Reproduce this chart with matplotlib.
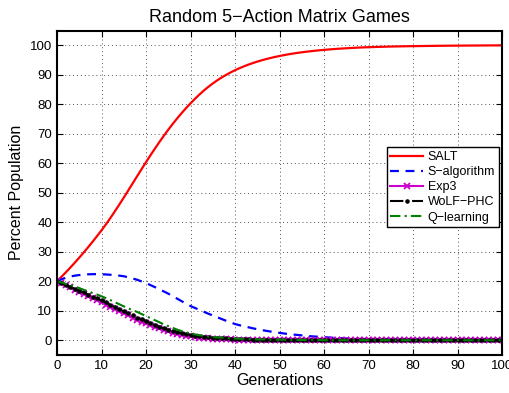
import numpy as np
import matplotlib
matplotlib.use("Agg")
import matplotlib.pyplot as plt

plt.rcParams['font.family'] = ['Liberation Sans', 'DejaVu Sans']

generations = np.arange(0, 101)

salt = [20.0, 21.5, 23.05, 24.65, 26.3, 28.0, 29.75, 31.55, 33.4, 35.3,
        37.25, 39.3, 41.45, 43.7, 46.0, 48.35, 50.75, 53.17, 55.59, 57.99,
        60.37, 62.7, 64.97, 67.17, 69.3, 71.35, 73.32, 75.2, 76.99, 78.69,
        80.29, 81.84, 83.29, 84.64, 85.89, 87.04, 88.1, 89.07, 89.96, 90.78,
        91.53, 92.22, 92.85, 93.43, 93.96, 94.45, 94.9, 95.31, 95.69, 96.04,
        96.36, 96.65, 96.92, 97.17, 97.4, 97.61, 97.8, 97.98, 98.14, 98.29,
        98.43, 98.56, 98.68, 98.79, 98.89, 98.98, 99.07, 99.15, 99.22, 99.28,
        99.34, 99.39, 99.44, 99.48, 99.52, 99.56, 99.59, 99.62, 99.65, 99.68,
        99.7, 99.72, 99.74, 99.76, 99.78, 99.8, 99.82, 99.83, 99.85, 99.86,
        99.87, 99.88, 99.89, 99.9, 99.91, 99.92, 99.93, 99.94, 99.95, 99.96,
        99.97]

s_algorithm = [20.0, 20.65, 21.2, 21.6, 21.9, 22.1, 22.25, 22.35, 22.4, 22.4,
               22.35, 22.3, 22.2, 22.05, 21.9, 21.7, 21.35, 20.95, 20.5, 19.95,
               19.4, 18.7, 18.0, 17.3, 16.55, 15.8, 14.95, 14.1, 13.25, 12.4,
               11.6, 10.95, 10.3, 9.65, 9.0, 8.4, 7.8, 7.2, 6.6, 6.05,
               5.5, 5.1, 4.75, 4.4, 4.05, 3.75, 3.45, 3.2, 2.95, 2.7,
               2.5, 2.3, 2.1, 1.95, 1.8, 1.65, 1.5, 1.35, 1.25, 1.15,
               1.05, 0.95, 0.85, 0.75, 0.7, 0.6, 0.55, 0.5, 0.45, 0.4,
               0.35, 0.32, 0.29, 0.26, 0.23, 0.2, 0.18, 0.16, 0.14, 0.12,
               0.1, 0.09, 0.08, 0.07, 0.06, 0.05, 0.04, 0.04, 0.03, 0.03,
               0.02, 0.02, 0.02, 0.01, 0.01, 0.01, 0.0, 0.0, 0.0, 0.0,
               0.0]

exp3 = [20.0, 19.3, 18.6, 17.9, 17.2, 16.5, 15.8, 15.1, 14.4, 13.6,
        12.9, 12.1, 11.3, 10.6, 9.8, 9.1, 8.4, 7.7, 7.0, 6.3,
        5.7, 5.1, 4.5, 4.0, 3.5, 3.0, 2.6, 2.2, 1.9, 1.6,
        1.3, 1.1, 0.9, 0.8, 0.6, 0.5, 0.4, 0.4, 0.3, 0.3,
        0.2, 0.2, 0.1, 0.1, 0.1, 0.1, 0.1, 0.1, 0.0, 0.0,
        0.0, 0.0, 0.0, 0.0, 0.0, 0.0, 0.0, 0.0, 0.0, 0.0,
        0.0, 0.0, 0.0, 0.0, 0.0, 0.0, 0.0, 0.0, 0.0, 0.0,
        0.0, 0.0, 0.0, 0.0, 0.0, 0.0, 0.0, 0.0, 0.0, 0.0,
        0.0, 0.0, 0.0, 0.0, 0.0, 0.0, 0.0, 0.0, 0.0, 0.0,
        0.0, 0.0, 0.0, 0.0, 0.0, 0.0, 0.0, 0.0, 0.0, 0.0,
        0.0]

wolf_phc = [20.0, 19.4, 18.7, 18.1, 17.5, 16.8, 16.2, 15.5, 14.8, 14.2,
            13.5, 12.8, 12.0, 11.3, 10.5, 9.8, 9.1, 8.4, 7.7, 7.1,
            6.5, 5.8, 5.2, 4.6, 4.1, 3.6, 3.2, 2.8, 2.4, 2.1,
            1.8, 1.6, 1.4, 1.2, 1.0, 0.9, 0.8, 0.7, 0.6, 0.5,
            0.4, 0.4, 0.3, 0.3, 0.2, 0.2, 0.2, 0.1, 0.1, 0.1,
            0.1, 0.1, 0.0, 0.0, 0.0, 0.0, 0.0, 0.0, 0.0, 0.0,
            0.0, 0.0, 0.0, 0.0, 0.0, 0.0, 0.0, 0.0, 0.0, 0.0,
            0.0, 0.0, 0.0, 0.0, 0.0, 0.0, 0.0, 0.0, 0.0, 0.0,
            0.0, 0.0, 0.0, 0.0, 0.0, 0.0, 0.0, 0.0, 0.0, 0.0,
            0.0, 0.0, 0.0, 0.0, 0.0, 0.0, 0.0, 0.0, 0.0, 0.0,
            0.0]

q_learning = [20.0, 19.6, 19.1, 18.7, 18.2, 17.7, 17.1, 16.6, 16.0, 15.5,
              14.9, 14.3, 13.6, 12.9, 12.2, 11.5, 10.8, 10.2, 9.6, 8.9,
              8.2, 7.5, 6.8, 6.1, 5.4, 4.8, 4.2, 3.6, 3.1, 2.7,
              2.3, 2.0, 1.7, 1.5, 1.3, 1.1, 1.0, 0.9, 0.8, 0.7,
              0.6, 0.5, 0.5, 0.4, 0.4, 0.3, 0.3, 0.3, 0.2, 0.2,
              0.2, 0.2, 0.1, 0.1, 0.1, 0.1, 0.1, 0.1, 0.1, 0.1,
              0.0, 0.0, 0.0, 0.0, 0.0, 0.0, 0.0, 0.0, 0.0, 0.0,
              0.0, 0.0, 0.0, 0.0, 0.0, 0.0, 0.0, 0.0, 0.0, 0.0,
              0.0, 0.0, 0.0, 0.0, 0.0, 0.0, 0.0, 0.0, 0.0, 0.0,
              0.0, 0.0, 0.0, 0.0, 0.0, 0.0, 0.0, 0.0, 0.0, 0.0,
              0.0]

fig = plt.figure(figsize=(5.1, 3.93), dpi=100)
ax = fig.add_axes([57 / 510, 38 / 393, 445 / 510, 324.5 / 393])

ax.plot(generations, salt, color='#ff0000', lw=1.6, label='SALT')
ax.plot(generations, s_algorithm, color='#0000ff', lw=1.6, ls=(0, (4, 3)),
        label='S\u2212algorithm')
ax.plot(generations, exp3, color='#cc00cc', lw=1.5, marker='x', ms=5,
        mew=1.3, label='Exp3')
ax.plot(generations, wolf_phc, color='k', lw=1.5, ls='-.', marker='.',
        ms=4.5, label='WoLF\u2212PHC')
ax.plot(generations, q_learning, color='#008000', lw=1.5, ls=(0, (5, 2, 1, 2)),
        label='Q\u2212learning')

ax.set_xlim(0, 100)
ax.set_ylim(-5, 105)
ax.set_xticks(np.arange(0, 101, 10))
ax.set_yticks(np.arange(0, 101, 10))
ax.tick_params(direction='in', top=True, right=True, labelsize=9.5,
               length=4, width=0.8)
ax.grid(True, ls=(0, (1, 3)), color='#555555', lw=0.7)
for spine in ax.spines.values():
    spine.set_linewidth(1.5)

ax.set_title('Random 5\u2212Action Matrix Games', fontsize=13, pad=6)
ax.set_xlabel('Generations', fontsize=11.5, labelpad=1)
ax.set_ylabel('Percent Population', fontsize=11.5, labelpad=4)

leg = ax.legend(loc='upper right', bbox_to_anchor=(0.993, 0.64), fontsize=9,
                fancybox=False, framealpha=1, edgecolor='k',
                handlelength=2.6, borderpad=0.3, labelspacing=0.25,
                handletextpad=0.4, borderaxespad=0.0)
leg.get_frame().set_linewidth(1.0)

fig.savefig('out.png', dpi=100)
